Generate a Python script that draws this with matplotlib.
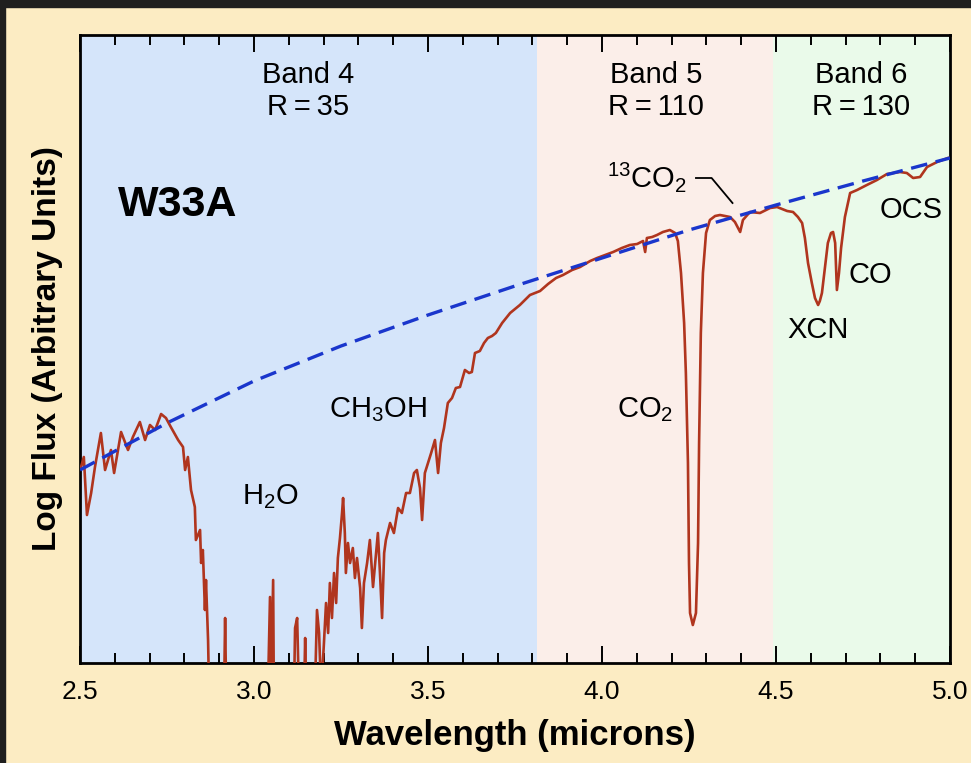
import numpy as np
import matplotlib
matplotlib.use("Agg")
import matplotlib.pyplot as plt
from matplotlib.patches import Rectangle
from matplotlib.ticker import MultipleLocator

plt.rcParams['font.family'] = ['Liberation Sans', 'DejaVu Sans']
plt.rcParams['mathtext.fontset'] = 'custom'
plt.rcParams['mathtext.rm'] = 'Liberation Sans'

# W33A spectrum (wavelength in microns, log flux in arbitrary units)
# values below 0 fall under the frame (saturated H2O band)
wave = [2.503, 2.511, 2.520, 2.532, 2.543, 2.560, 2.572, 2.589, 2.598, 2.618,
        2.638, 2.652, 2.672, 2.687, 2.701, 2.716, 2.733, 2.747, 2.761, 2.782,
        2.796, 2.802, 2.810, 2.819, 2.830, 2.833, 2.845, 2.848, 2.853, 2.859,
        2.862, 2.868, 2.871, 2.879, 2.914, 2.917, 2.920, 3.040, 3.046, 3.049,
        3.055, 3.057, 3.115, 3.118, 3.124, 3.129, 3.144, 3.147, 3.150, 3.175,
        3.181, 3.187, 3.193, 3.201, 3.207, 3.213, 3.218, 3.224, 3.230, 3.236,
        3.241, 3.247, 3.253, 3.256, 3.261, 3.264, 3.270, 3.276, 3.284, 3.290,
        3.296, 3.305, 3.310, 3.316, 3.325, 3.333, 3.342, 3.351, 3.356, 3.362,
        3.368, 3.374, 3.379, 3.391, 3.402, 3.414, 3.425, 3.437, 3.448, 3.460,
        3.468, 3.477, 3.483, 3.491, 3.500, 3.509, 3.520, 3.529, 3.537, 3.546,
        3.557, 3.569, 3.580, 3.592, 3.606, 3.618, 3.626, 3.635, 3.649, 3.661,
        3.672, 3.684, 3.695, 3.713, 3.736, 3.764, 3.793, 3.822, 3.845, 3.868,
        3.888, 3.914, 3.937, 3.966, 3.986, 4.009, 4.032, 4.057, 4.080, 4.101,
        4.118, 4.124, 4.129, 4.144, 4.158, 4.175, 4.195, 4.210, 4.218, 4.227,
        4.236, 4.241, 4.247, 4.250, 4.253, 4.261, 4.270, 4.276, 4.279, 4.284,
        4.290, 4.299, 4.310, 4.325, 4.339, 4.353, 4.368, 4.382, 4.397, 4.405,
        4.425, 4.454, 4.483, 4.503, 4.532, 4.549, 4.563, 4.575, 4.583, 4.592,
        4.603, 4.612, 4.621, 4.626, 4.632, 4.641, 4.649, 4.658, 4.664, 4.670,
        4.675, 4.681, 4.687, 4.698, 4.713, 4.733, 4.761, 4.790, 4.819, 4.856,
        4.876, 4.894, 4.914, 4.934, 4.963, 4.994]
flux = [1.96, 2.06, 1.48, 1.70, 1.96, 2.30, 1.93, 2.13, 1.90, 2.31,
        2.13, 2.26, 2.41, 2.23, 2.38, 2.33, 2.49, 2.45, 2.36, 2.23,
        2.16, 1.93, 2.06, 1.73, 1.56, 1.23, 1.33, 1.00, 1.13, 0.53,
        0.83, 0.23, -0.30, -0.30, -0.30, 0.45, -0.30, -0.30, 0.66, -0.30,
        0.83, -0.30, -0.30, 0.35, 0.45, -0.30, -0.30, 0.25, -0.30, -0.30,
        0.53, 0.30, -0.30, 0.20, 0.60, 0.30, 0.80, 0.45, 0.90, 0.60,
        1.05, 1.25, 1.50, 1.65, 1.30, 0.90, 1.20, 1.00, 1.15, 0.85,
        1.05, 0.75, 0.35, 0.80, 1.00, 1.23, 0.76, 1.10, 1.30, 0.90,
        0.45, 1.10, 1.23, 1.40, 1.30, 1.55, 1.50, 1.70, 1.70, 1.90,
        1.93, 1.75, 1.43, 1.90, 2.00, 2.10, 2.23, 1.90, 2.20, 2.35,
        2.60, 2.65, 2.75, 2.76, 2.93, 2.90, 2.91, 3.10, 3.12, 3.20,
        3.25, 3.27, 3.30, 3.40, 3.50, 3.58, 3.68, 3.72, 3.79, 3.85,
        3.88, 3.93, 3.96, 4.02, 4.05, 4.08, 4.11, 4.15, 4.18, 4.19,
        4.22, 4.11, 4.25, 4.26, 4.28, 4.31, 4.33, 4.30, 4.22, 3.90,
        3.40, 2.90, 2.00, 1.00, 0.50, 0.38, 0.50, 1.20, 2.20, 3.30,
        3.90, 4.30, 4.43, 4.47, 4.48, 4.47, 4.46, 4.41, 4.31, 4.43,
        4.51, 4.50, 4.55, 4.56, 4.52, 4.51, 4.46, 4.40, 4.25, 4.00,
        3.80, 3.65, 3.58, 3.62, 3.70, 3.96, 4.20, 4.30, 4.31, 4.20,
        3.73, 3.90, 4.15, 4.46, 4.70, 4.73, 4.78, 4.83, 4.89, 4.91,
        4.90, 4.85, 4.86, 4.96, 5.01, 5.05]

# continuum (dashed)
cont_wave = [2.50, 2.75, 3.00, 3.25, 3.50, 3.75, 4.00, 4.25, 4.50, 4.75, 5.00]
cont_flux = [1.93, 2.40, 2.82, 3.17, 3.48, 3.77, 4.05, 4.33, 4.58, 4.82, 5.05]

# instrument bands
band_edges = [2.5, 3.813, 4.491, 5.0]
band_colors = ['#d5e5fa', '#fbeee9', '#eafaea']
band_names = ['Band 4\nR\u2009=\u200935', 'Band 5\nR\u2009=\u2009110', 'Band 6\nR\u2009=\u2009130']
band_label_x = [3.155, 4.155, 4.745]

fig = plt.figure(figsize=(9.71, 7.63), dpi=100, facecolor='#fcecc3')
# dark frame at the top and left of the screenshot
fig.patches.append(Rectangle((0, 1 - 7 / 763), 1, 7 / 763, transform=fig.transFigure,
                             color='#1f1f1f', zorder=0))
fig.patches.append(Rectangle((0, 0), 5 / 971, 1, transform=fig.transFigure,
                             color='#1f1f1f', zorder=0))

ax = fig.add_axes([80 / 971, 100 / 763, 870 / 971, 628 / 763])
for i in range(3):
    ax.axvspan(band_edges[i], band_edges[i + 1], color=band_colors[i], lw=0, zorder=0)
    ax.text(band_label_x[i], 5.72, band_names[i], ha='center', va='center',
            fontsize=21, linespacing=1.2, family=['Liberation Sans', 'DejaVu Sans'])

ax.plot(wave, flux, color='#b0351e', lw=1.9, zorder=3)
ax.plot(cont_wave, cont_flux, color='#1a36cc', lw=2.4, dashes=(5, 2.6), zorder=4)

ax.set_xlim(2.5, 5.0)
ax.set_ylim(0, 6.28)
ax.xaxis.set_major_locator(MultipleLocator(0.5))
ax.xaxis.set_minor_locator(MultipleLocator(0.1))
ax.xaxis.set_major_formatter(matplotlib.ticker.FormatStrFormatter('%.1f'))
ax.set_yticks([])
ax.tick_params(axis='x', which='both', direction='in', top=True, bottom=True,
               labelsize=19, pad=12, width=1.4)
ax.tick_params(axis='x', which='major', length=12)
ax.tick_params(axis='x', which='minor', length=7.5)
for s in ax.spines.values():
    s.set_linewidth(2)

ax.set_xlabel('Wavelength (microns)', fontsize=25, fontweight='bold', labelpad=11)
ax.set_ylabel('Log Flux (Arbitrary Units)', fontsize=24, fontweight='bold', labelpad=12)

ax.text(2.61, 4.58, 'W33A', fontsize=31, fontweight='bold', ha='left', va='center')
lab = dict(fontsize=21, ha='center', va='center')
ax.text(3.046, 1.66, 'H$_2$O', **lab)
ax.text(3.356, 2.53, 'CH$_3$OH', **lab)
ax.text(4.124, 2.53, 'CO$_2$', **lab)
ax.text(4.13, 4.86, '$^{13}$CO$_2$', **lab)
ax.text(4.621, 3.33, 'XCN', **lab)
ax.text(4.772, 3.88, 'CO', **lab)
ax.text(4.887, 4.53, 'OCS', **lab)
ax.plot([4.27, 4.315, 4.375], [4.85, 4.85, 4.60], color='black', lw=1.3, zorder=5)

fig.savefig('out.png', dpi=100, facecolor=fig.get_facecolor())
